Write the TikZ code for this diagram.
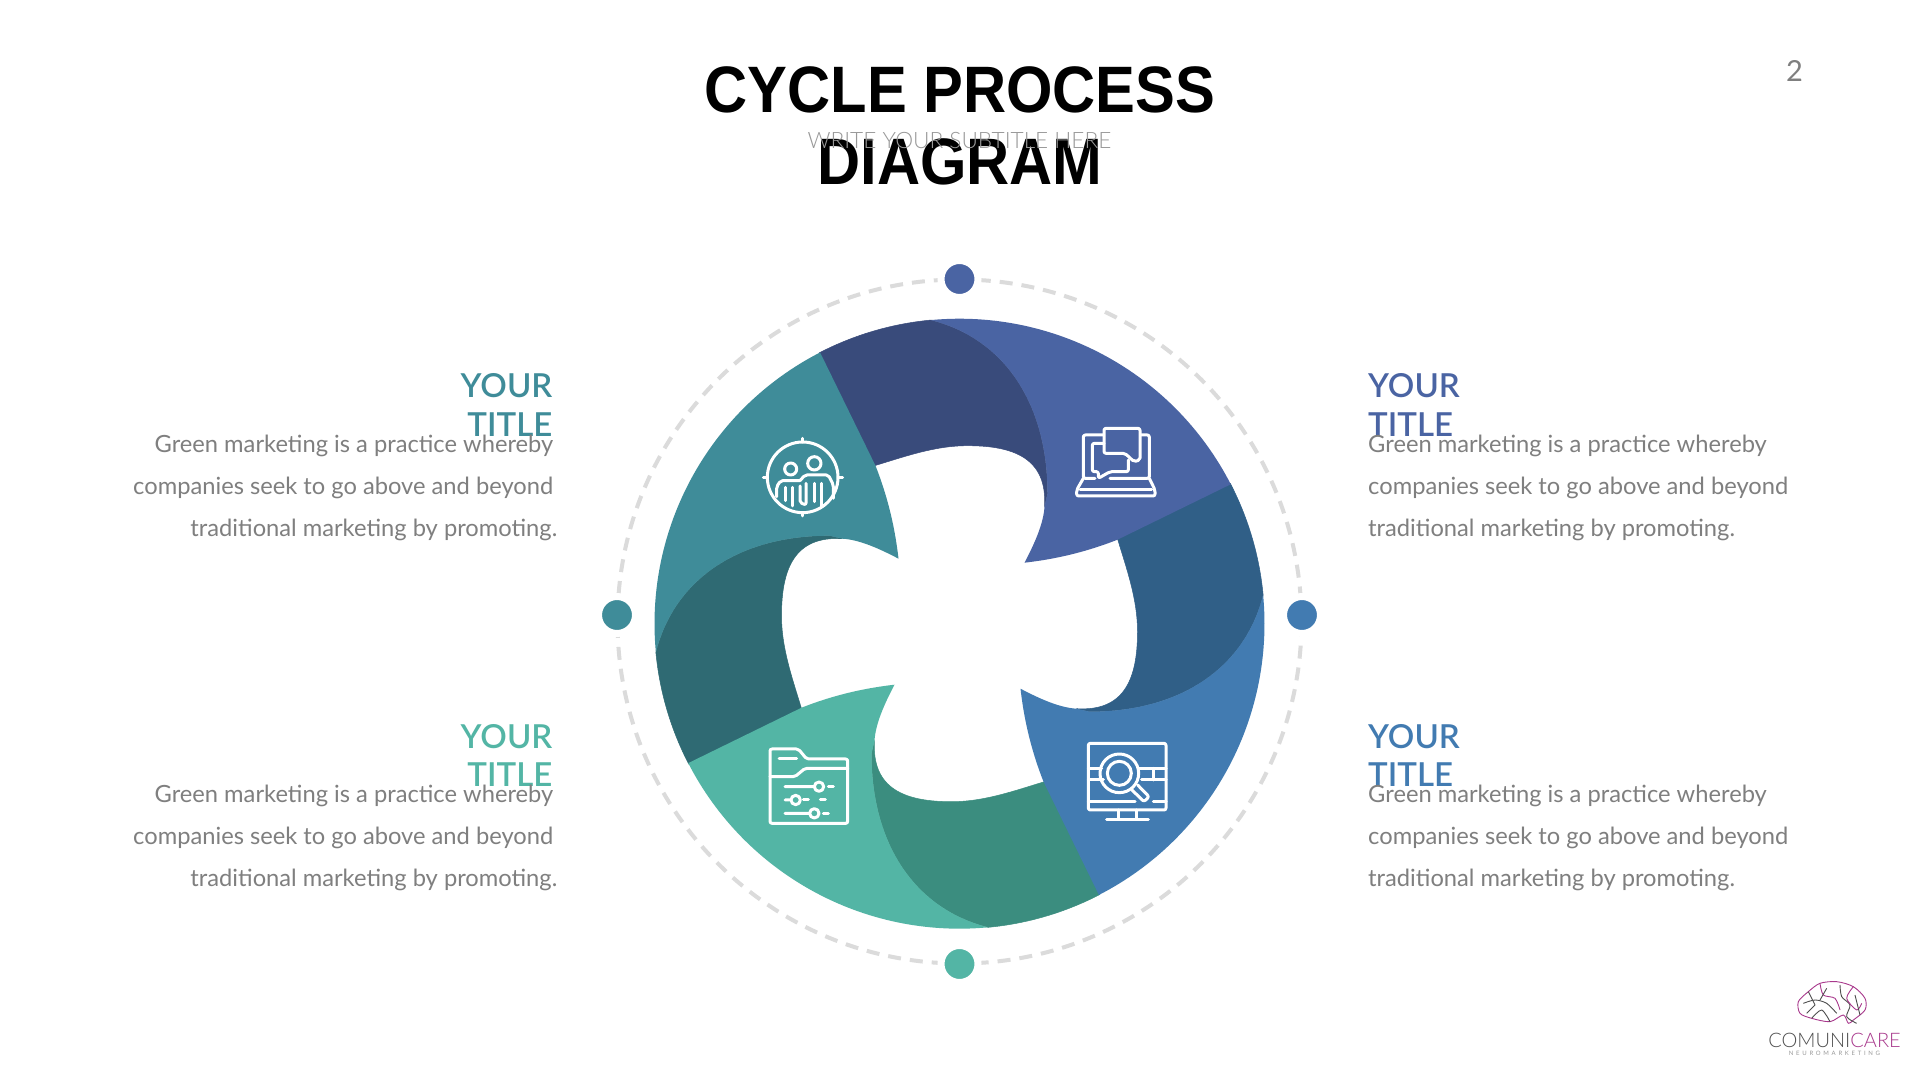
\documentclass[tikz,border=0pt]{standalone}
\usepackage{fontspec}
\setmainfont{Lato}
\newfontfamily\headfont{Liberation Sans}
\newfontfamily\thinfont{Lato Light}
\newfontfamily\medfont{Lato Semibold}
\newfontfamily\tagfont[LetterSpace=45]{Lato}
\usetikzlibrary{positioning}
\definecolor{bluelight}{HTML}{4A64A3}
\definecolor{bluedark}{HTML}{394B7B}
\definecolor{skylight}{HTML}{427BB1}
\definecolor{skydark}{HTML}{305F87}
\definecolor{mintlight}{HTML}{53B5A5}
\definecolor{mintdark}{HTML}{3B8D7F}
\definecolor{teallight}{HTML}{3F8C99}
\definecolor{tealdark}{HTML}{2F6A73}
\definecolor{bodygrey}{HTML}{7F7F7F}
\definecolor{logopink}{HTML}{A8388C}
\definecolor{logogrey}{HTML}{4F4F4F}
\newcommand{\bodytextleft}{Green marketing is a practice whereby\\companies seek to go above and beyond\\traditional marketing by promoting.\kern-4pt}
\newcommand{\bodytextright}{Green marketing is a practice whereby\\companies seek to go above and beyond\\traditional marketing by promoting.}

\begin{document}
\begin{tikzpicture}[
         x=1pt, y=1pt,
         ring/.style={draw=black!14, line width=4pt, dash pattern=on 13pt off 9pt},
         dot/.style={circle, draw=white, line width=7pt, minimum size=37pt, inner sep=0pt},
         icon/.style={draw=white, line width=3pt, line join=round, line cap=round, rounded corners=2pt},
         heading/.style={font=\medfont\fontsize{33}{38.5}\selectfont, inner sep=0pt},
         bodytext/.style={font=\fontsize{23.7}{42.2}\selectfont, text=bodygrey, inner sep=0pt},
         brain/.style={line width=0.9pt, line join=round}
      ]
         \useasboundingbox (0,0) rectangle (1920,1080);
         \fill[white] (0,0) rectangle (1920,1080);

         % Title block
         \node[font=\headfont\fontsize{59.7}{65.5}\selectfont\bfseries, align=center, inner sep=0pt, yscale=1.1, transform shape, anchor=base] (maintitle) at (960,895.3) {CYCLE PROCESS\\DIAGRAM};
         \node[font=\thinfont\fontsize{22.6}{30}\selectfont, text=black!40, inner sep=0pt, anchor=base] (subtitle) at (959.5,931) {WRITE YOUR SUBTITLE HERE};
         \node[font=\fontsize{29}{34}\selectfont, text=bodygrey, inner sep=0pt, anchor=base] (pagenum) at (1794.5,998) {2};

         % Outer ring and its dots
         \coordinate (ringcentre) at (959.5,458.5);
         \draw[ring] (ringcentre) circle[radius=342];
         \node[dot, fill=bluelight] (dottop) at (959.5,801) {};
         \node[dot, fill=skylight] (dotright) at (1302,465) {};
         \node[dot, fill=mintlight] (dotbottom) at (959.5,116) {};
         \node[dot, fill=teallight] (dotleft) at (617,465) {};

         % Dark bands first
         \foreach \idx/\bandcol in {0/bluedark, 1/skydark, 2/mintdark, 3/tealdark} {
            \begin{scope}[shift={(959.5,456.3)}, rotate=-90*\idx]
               \fill[\bandcol, draw=\bandcol, line width=0.5pt] (117.4:305) arc[start angle=117.4, end angle=95.4, radius=305]
                  .. controls (45,285) and (88,220) .. (88,130) -- (85,117)
                  .. controls (88,165) and (55,178) .. (8,178)
                  .. controls (-25,178) and (-55,167) .. (-85,158) -- cycle;
            \end{scope}
         }
         % Light blades on top
         \foreach \idx/\bandcol in {0/bluelight, 1/skylight, 2/mintlight, 3/teallight} {
            \begin{scope}[shift={(959.5,456.3)}, rotate=-90*\idx]
               \fill[\bandcol] (95.4:305) arc[start angle=95.4, end angle=27.2, radius=305]
                  -- (158,84) .. controls (130,73) and (100,65) .. (65,61)
                  .. controls (75,80) and (84,100) .. (85,117) -- (88,130)
                  .. controls (88,220) and (45,285) .. (95.4:305) -- cycle;
            \end{scope}
         }

         % Icon: people in a target
         \begin{scope}[shift={(750,650)}, xscale=1/3, yscale=-1/3]
            \draw[icon] (158,142) circle[radius=106] (122,117) circle[radius=18] (193,100) circle[radius=20];
            \draw[icon] (158,25) -- (158,36) (158,248) -- (158,258) (40,142) -- (52,142) (265,142) -- (278,142);
            \draw[icon] (80,200) -- (80,170) -- (92,152) -- (150,152);
            \draw[icon] (150,152) -- (165,135) -- (235,135) -- (250,165) -- (250,205);
            \draw[icon] (105,172) -- (105,212) (128,172) -- (128,228);
            \draw[icon] (150,168) -- (150,218) -- (168,225) -- (168,160);
            \draw[icon] (192,160) -- (192,215) (214,160) -- (214,228);
         \end{scope}
         % Icon: laptop with speech bubbles
         \begin{scope}[shift={(1060,670)}, xscale=1/3, yscale=-1/3]
            \draw[icon] (130,75) -- (70,75) -- (70,205) -- (105,205);
            \draw[icon] (243,75) -- (268,75) -- (268,205) -- (150,205);
            \draw[icon] (70,205) -- (50,240) -- (50,258) -- (285,258) -- (285,240) -- (268,205);
            \draw[icon] (60,238) -- (275,238);
            \draw[icon] (132,55) -- (240,55) -- (240,150) -- (222,155) -- (195,130) -- (132,130) -- cycle;
            \draw[icon] (132,100) -- (97,100) -- (97,185) -- (115,185) -- (115,205) -- (150,185) -- (205,185) -- (205,150);
         \end{scope}
         % Icon: monitor with magnifier
         \begin{scope}[shift={(1070,350)}, xscale=1/3, yscale=-1/3]
            \draw[icon] (100,40) -- (55,40) -- (55,240) -- (288,240) -- (288,40) -- cycle;
            \draw[icon] (55,115) -- (95,115) (55,150) -- (100,150) (205,115) -- (288,115) (215,150) -- (288,150) (250,115) -- (250,150);
            \draw[icon] (55,215) -- (195,215) (250,215) -- (288,215);
            \draw[icon] (145,240) -- (145,268) (200,240) -- (200,268) (110,268) -- (235,268);
            \draw[icon] (148,130) circle[radius=58] (148,130) circle[radius=36];
            \draw[icon] (203,165) -- (237,200) -- (222,215) -- (186,180);
         \end{scope}
         % Icon: folder with sliders
         \begin{scope}[shift={(755,345)}, xscale=1/3, yscale=-1/3]
            \draw[icon] (45,42) -- (130,42) -- (155,72) -- (278,72) -- (278,265) -- (45,265) -- cycle;
            \draw[icon] (45,125) -- (120,125) -- (150,100) -- (278,100);
            \draw[icon] (72,72) -- (125,72);
            \draw[icon] (90,155) -- (178,155) (192,155) circle[radius=14];
            \draw[icon, dash pattern=on 5pt off 12pt] (220,155) -- (238,155);
            \draw[icon] (90,195) -- (108,195) (122,195) circle[radius=14];
            \draw[icon, dash pattern=on 5pt off 12pt] (145,195) -- (238,195);
            \draw[icon] (90,235) -- (164,235) (178,235) circle[radius=14];
            \draw[icon, dash pattern=on 5pt off 12pt] (205,235) -- (238,235);
         \end{scope}

         % Left text blocks
         \foreach \idx/\posy/\colr in {a/643.5/teallight, b/293.5/mintlight} {
            \node[heading, text=\colr, align=right, anchor=base east] (head\idx) at (552.5,\posy) {YOUR\\TITLE};
            \node[bodytext, align=right, below=100pt of head\idx.base east, anchor=base east, xshift=1pt] (body\idx) {\bodytextleft};
         }
         % Right text blocks
         \foreach \idx/\posy/\colr in {c/643.5/bluelight, d/293.5/skylight} {
            \node[heading, text=\colr, align=left, anchor=base west] (head\idx) at (1368,\posy) {YOUR\\TITLE};
            \node[bodytext, align=left, below=100pt of head\idx.base west, anchor=base west] (body\idx) {\bodytextright};
         }

         % Logo
         \begin{scope}[shift={(1740,120)}, xscale=1/3, yscale=-1/3]
            \draw[brain, logopink] plot[smooth cycle] coordinates {(215,175) (180,160) (175,125) (205,95) (240,70) (290,65) (340,80) (375,115) (375,150) (340,180) (325,190) (310,165) (270,185)};
            \draw[brain, logogrey] plot[smooth] coordinates {(190,130) (225,120) (260,130) (290,160)} plot[smooth] coordinates {(215,175) (245,150) (270,185)};
            \draw[brain, logogrey] plot[smooth] coordinates {(300,75) (305,110) (330,135) (320,170) (350,190)};
            \draw[brain, logopink] plot[smooth] coordinates {(240,70) (250,105) (285,115) (300,150)} plot[smooth] coordinates {(340,80) (320,115) (350,150) (365,130)};
            \draw[brain, logogrey] (205,95) -- (225,135) -- (200,160) (260,85) -- (240,120) (345,105) -- (360,165);
         \end{scope}
         \node[font=\thinfont\fontsize{20}{22}\selectfont, inner sep=0pt, anchor=base] (logoname) at (1834.5,33) {\textcolor{logogrey}{COMUNI}\textcolor{logopink}{CARE}};
         \node[font=\tagfont\fontsize{6}{7}\selectfont, text=black!40, inner sep=0pt, below=8pt of logoname.base, anchor=base] (logotag) {NEUROMARKETING};
      \end{tikzpicture}
\end{document}
